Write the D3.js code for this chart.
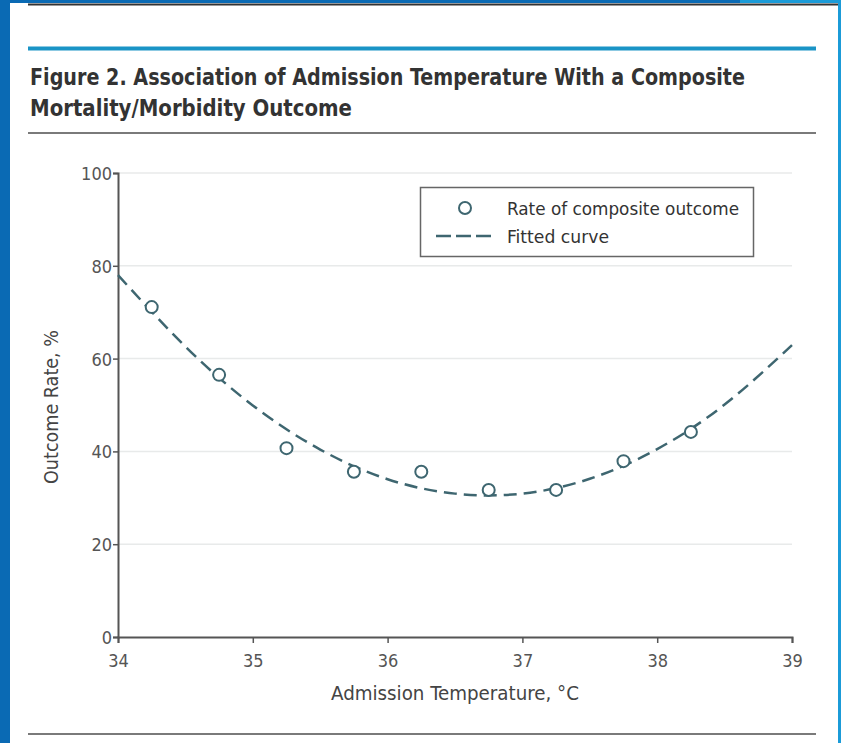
<!DOCTYPE html>
<html>
<head>
<meta charset="utf-8">
<script src="https://cdn.jsdelivr.net/npm/d3@7"></script>
<style>
  html, body { margin: 0; padding: 0; background: #fff; }
  svg { display: block; }
  text { font-family: "Liberation Sans Narrow", "DejaVu Sans Condensed", "Open Sans", sans-serif; }
</style>
</head>
<body>
<div id="chart"></div>
<script>
// observed rates (composite outcome) by admission temperature bin
const pointTemps = [34.25, 34.75, 35.25, 35.75, 36.25, 36.75, 37.25, 37.75, 38.25];
const pointRates = [71.1, 56.5, 40.7, 35.6, 35.6, 31.7, 31.7, 37.9, 44.2];

// fitted curve
const curveTemps = [34, 34.5, 35, 35.5, 36, 36.5, 37, 37.5, 38, 38.5, 39];
const curveRates = [78, 62.6, 49.9, 40.4, 34.0, 30.9, 30.9, 34.1, 40.5, 50.1, 62.9];

const xTicks = [34, 35, 36, 37, 38, 39];
const yTicks = [0, 20, 40, 60, 80, 100];

const titleLines = [
  'Figure 2. Association of Admission Temperature With a Composite',
  'Mortality/Morbidity Outcome'
];
const legendLabels = ['Rate of composite outcome', 'Fitted curve'];

const W = 841, H = 743;
const ink = '#3e6670';
const fontStack = '"Liberation Sans Narrow", "DejaVu Sans Condensed", "Open Sans", sans-serif';

const svg = d3.select('#chart').append('svg')
  .attr('width', W)
  .attr('height', H);

// page frame
svg.append('rect').attr('x', 0).attr('y', 0).attr('width', W).attr('height', H).attr('fill', '#fff');
svg.append('rect').attr('x', 0).attr('y', 0).attr('width', 10).attr('height', H).attr('fill', '#0a6ab4');
svg.append('rect').attr('x', 0).attr('y', 0).attr('width', 740).attr('height', 3).attr('fill', '#0a6ab4');
svg.append('rect').attr('x', 740).attr('y', 0).attr('width', W - 740).attr('height', 3).attr('fill', '#1b9bd8');
svg.append('rect').attr('x', 838).attr('y', 0).attr('width', 3).attr('height', H).attr('fill', '#1b9bd8');
svg.append('line').attr('x1', 28).attr('x2', 838).attr('y1', 4.5).attr('y2', 4.5)
  .attr('stroke', '#333').attr('stroke-width', 2);

// rules
svg.append('line').attr('x1', 28).attr('x2', 816).attr('y1', 48.5).attr('y2', 48.5)
  .attr('stroke', '#1a94c6').attr('stroke-width', 4);
svg.append('line').attr('x1', 28).attr('x2', 816).attr('y1', 133).attr('y2', 133)
  .attr('stroke', '#7a7a7a').attr('stroke-width', 2);
svg.append('line').attr('x1', 28).attr('x2', 816).attr('y1', 734).attr('y2', 734)
  .attr('stroke', '#7a7a7a').attr('stroke-width', 2);

// title
svg.selectAll('text.title')
  .data(titleLines)
  .join('text')
  .attr('class', 'title')
  .attr('x', 30)
  .attr('y', (d, i) => 85 + i * 31)
  .attr('font-size', 23)
  .attr('font-weight', 'bold')
  .attr('fill', '#333')
  .attr('textLength', (d, i) => i === 0 ? 715 : 322)
  .attr('lengthAdjust', 'spacingAndGlyphs')
  .text(d => d);

// scales
const x = d3.scaleLinear().domain([34, 39]).range([118, 792]);
const y = d3.scaleLinear().domain([0, 100]).range([637, 173]);

// gridlines
svg.append('g')
  .selectAll('line')
  .data(yTicks.filter(v => v > 0))
  .join('line')
  .attr('x1', x(34)).attr('x2', x(39))
  .attr('y1', d => y(d)).attr('y2', d => y(d))
  .attr('stroke', '#e8eaea').attr('stroke-width', 1.5);

// axes
const xAxis = svg.append('g')
  .attr('transform', `translate(0,${y(0)})`)
  .call(d3.axisBottom(x).tickValues(xTicks).tickSize(6).tickFormat(d3.format('d')));
const yAxis = svg.append('g')
  .attr('transform', `translate(${x(34)},0)`)
  .call(d3.axisLeft(y).tickValues(yTicks).tickSize(5).tickFormat(d3.format('d')));

[xAxis, yAxis].forEach(ax => {
  ax.select('.domain').attr('stroke', '#555').attr('stroke-width', 2);
  ax.selectAll('.tick line').attr('stroke', '#555').attr('stroke-width', 1.5);
  ax.selectAll('.tick text')
    .attr('fill', '#555')
    .attr('font-size', 18)
    .style('font-family', fontStack);
});
xAxis.selectAll('.tick text').attr('dy', null).attr('y', 30);
yAxis.selectAll('.tick text').attr('x', -6).attr('dy', '0.36em');

// axis titles
svg.append('text')
  .attr('x', 455).attr('y', 700)
  .attr('text-anchor', 'middle')
  .attr('font-size', 19)
  .attr('fill', '#444')
  .attr('textLength', 248)
  .attr('lengthAdjust', 'spacingAndGlyphs')
  .text('Admission Temperature, °C');

svg.append('text')
  .attr('transform', 'translate(58,407) rotate(-90)')
  .attr('text-anchor', 'middle')
  .attr('font-size', 19)
  .attr('fill', '#444')
  .attr('textLength', 154)
  .attr('lengthAdjust', 'spacingAndGlyphs')
  .text('Outcome Rate, %');

// fitted curve
const curveData = curveTemps.map((t, i) => ({ t, r: curveRates[i] }));
const line = d3.line()
  .x(d => x(d.t))
  .y(d => y(d.r))
  .curve(d3.curveNatural);

svg.append('path')
  .datum(curveData)
  .attr('d', line)
  .attr('fill', 'none')
  .attr('stroke', ink)
  .attr('stroke-width', 2.5)
  .attr('stroke-dasharray', '13,7');

// observed points
svg.append('g')
  .selectAll('circle')
  .data(pointTemps.map((t, i) => ({ t, r: pointRates[i] })))
  .join('circle')
  .attr('cx', d => x(d.t))
  .attr('cy', d => y(d.r))
  .attr('r', 6)
  .attr('fill', '#fff')
  .attr('stroke', ink)
  .attr('stroke-width', 2);

// legend
const legend = svg.append('g');
legend.append('rect')
  .attr('x', 420.5).attr('y', 187.5)
  .attr('width', 333).attr('height', 69)
  .attr('fill', '#fff')
  .attr('stroke', '#666').attr('stroke-width', 1.5);
legend.append('circle')
  .attr('cx', 465).attr('cy', 208)
  .attr('r', 6)
  .attr('fill', '#fff')
  .attr('stroke', ink).attr('stroke-width', 2);
legend.append('line')
  .attr('x1', 436).attr('x2', 491)
  .attr('y1', 236).attr('y2', 236)
  .attr('stroke', ink).attr('stroke-width', 2.5)
  .attr('stroke-dasharray', '15,5');
legend.selectAll('text')
  .data(legendLabels)
  .join('text')
  .attr('x', 507)
  .attr('y', (d, i) => 215 + i * 28)
  .attr('font-size', 18)
  .attr('fill', '#333')
  .attr('textLength', (d, i) => i === 0 ? 232 : 102)
  .attr('lengthAdjust', 'spacingAndGlyphs')
  .text(d => d);
</script>
</body>
</html>
